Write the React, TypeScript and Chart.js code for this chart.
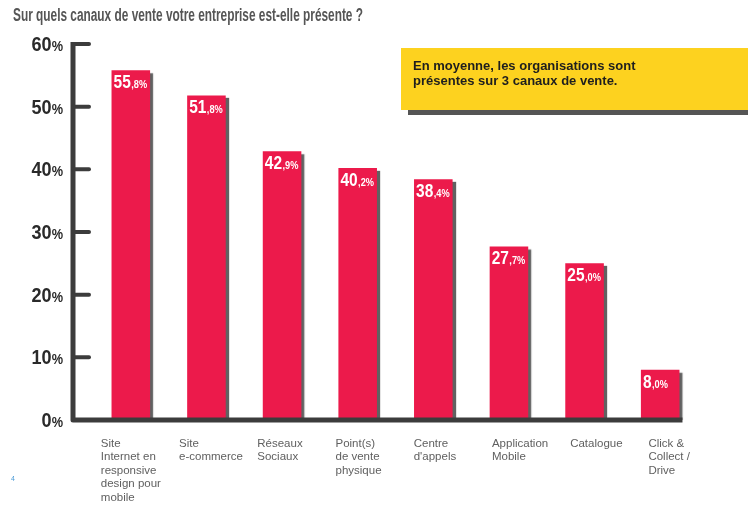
import React, { useEffect, useRef } from "react";
import { Chart, registerables } from "chart.js";

Chart.register(...registerables);

const title = "Sur quels canaux de vente votre entreprise est-elle présente ?";
const categories = [
  "Site\nInternet en\nresponsive\ndesign pour\nmobile",
  "Site\ne-commerce",
  "Réseaux\nSociaux",
  "Point(s)\nde vente\nphysique",
  "Centre\nd'appels",
  "Application\nMobile",
  "Catalogue",
  "Click &\nCollect /\nDrive",
];
const values = [55.8, 51.8, 42.9, 40.2, 38.4, 27.7, 25.0, 8.0];
const yTicks = [0, 10, 20, 30, 40, 50, 60];
const calloutLines = ["En moyenne, les organisations sont", "présentes sur 3 canaux de vente."];
const pageNumber = "4";

const SANS = '"Liberation Sans", Arial, sans-serif';
const BAR = "#EC1A4B";
const AXIS = "#3c3c3c";
const SX = 0.86;

function fmtParts(v: number) {
  const s = v.toFixed(1).split(".");
  return [s[0], "," + s[1] + "%"];
}

function drawScaled(ctx: any, text: string, x: number, y: number, font: string, sx: number, align: "left" | "right") {
  ctx.save();
  ctx.font = font;
  const w = ctx.measureText(text).width * sx;
  const left = align === "right" ? x - w : x;
  ctx.translate(left, y);
  ctx.scale(sx, 1);
  ctx.textAlign = "left";
  ctx.fillText(text, 0, 0);
  ctx.restore();
  return w;
}

const decor = {
  id: "decor",
  beforeDatasetsDraw(chart: any) {
    const ctx = chart.ctx;
    ctx.save();
    ctx.shadowColor = "rgba(80,80,80,0.9)";
    ctx.shadowOffsetX = 3;
    ctx.shadowOffsetY = 3;
    ctx.shadowBlur = 1;
  },
  afterDatasetsDraw(chart: any) {
    const ctx = chart.ctx;
    ctx.restore();
    const { chartArea } = chart;
    const xs = chart.scales.x;
    const ys = chart.scales.y;
    const meta = chart.getDatasetMeta(0);

    // axes
    const axisX = chartArea.left - 20;
    const y0 = ys.getPixelForValue(0);
    const yTop = ys.getPixelForValue(60);
    const lastBar = meta.data[meta.data.length - 1];
    const xEnd = lastBar.x + lastBar.width / 2 + 3;
    ctx.save();
    ctx.strokeStyle = AXIS;
    ctx.lineWidth = 5;
    ctx.lineJoin = "round";
    ctx.lineCap = "butt";
    ctx.beginPath();
    ctx.moveTo(axisX, yTop - 2);
    ctx.lineTo(axisX, y0);
    ctx.lineTo(xEnd, y0);
    ctx.stroke();
    ctx.lineWidth = 4;
    ctx.lineCap = "round";
    yTicks.forEach((t) => {
      if (t === 0) return;
      const y = ys.getPixelForValue(t);
      ctx.beginPath();
      ctx.moveTo(axisX, y);
      ctx.lineTo(axisX + 16, y);
      ctx.stroke();
    });
    ctx.restore();

    // y tick labels
    ctx.save();
    ctx.fillStyle = "#2a2a2a";
    ctx.textBaseline = "alphabetic";
    yTicks.forEach((t) => {
      const y = ys.getPixelForValue(t) + 7;
      const right = axisX - 10;
      const pw = drawScaled(ctx, "%", right, y, `bold 15px ${SANS}`, 0.85, "right");
      drawScaled(ctx, String(t), right - pw, y, `bold 21px ${SANS}`, 0.86, "right");
    });
    ctx.restore();

    // value labels
    ctx.save();
    ctx.fillStyle = "#ffffff";
    meta.data.forEach((bar: any, i: number) => {
      const [a, b] = fmtParts(values[i]);
      const left = bar.x - bar.width / 2 + 2;
      const base = bar.y + 18;
      const w = drawScaled(ctx, a, left, base, `bold 18px ${SANS}`, SX, "left");
      drawScaled(ctx, b, left + w + 0.5, base, `bold 11px ${SANS}`, 0.84, "left");
    });
    ctx.restore();

    // category labels
    ctx.save();
    ctx.fillStyle = "#606060";
    ctx.font = `11.5px ${SANS}`;
    ctx.textAlign = "left";
    categories.forEach((c, i) => {
      const cx = xs.getPixelForValue(i);
      const lx = cx - 30 + i * 2.6;
      c.split("\n").forEach((line, j) => {
        ctx.fillText(line, lx, y0 + 27 + j * 13.4);
      });
    });
    ctx.restore();

    // title
    ctx.save();
    ctx.fillStyle = "#555555";
    ctx.font = `bold 18px ${SANS}`;
    ctx.textAlign = "left";
    ctx.fillText(title, 13, 21, 350);
    ctx.restore();

    // callout box
    ctx.save();
    ctx.fillStyle = "#555555";
    ctx.fillRect(408, 110, 340, 5);
    ctx.fillStyle = "#FDD21F";
    ctx.fillRect(401, 48, 347, 62);
    ctx.fillStyle = "#1e1e1e";
    ctx.font = `bold 13px ${SANS}`;
    ctx.textAlign = "left";
    calloutLines.forEach((l, j) => ctx.fillText(l, 413, 70 + j * 14.5, 248));
    ctx.restore();

    // page number
    ctx.save();
    ctx.fillStyle = "#4a9ad6";
    ctx.font = `7px ${SANS}`;
    ctx.fillText(pageNumber, 11, 481);
    ctx.restore();
  },
};

export default function App() {
  const ref = useRef<HTMLCanvasElement | null>(null);
  useEffect(() => {
    if (!ref.current) return;
    const chart = new Chart(ref.current, {
      type: "bar",
      data: {
        labels: categories.map((c) => c.replace(/\n/g, " ")),
        datasets: [
          {
            data: values,
            backgroundColor: BAR,
            borderWidth: 0,
            barPercentage: 0.51,
            categoryPercentage: 1,
          },
        ],
      },
      options: {
        animation: false,
        responsive: false,
        maintainAspectRatio: false,
        layout: { padding: { left: 93, right: 50, top: 44, bottom: 91 } },
        plugins: { legend: { display: false }, tooltip: { enabled: false } },
        scales: {
          x: { display: false },
          y: { display: false, min: 0, max: 60 },
        },
      },
      plugins: [decor],
    });
    return () => chart.destroy();
  }, []);
  return (
    <div style={{ position: "fixed", left: 0, top: 0, width: 748, height: 511, background: "#fff" }}>
      <canvas ref={ref} width={748} height={511} style={{ width: 748, height: 511, display: "block" }} />
    </div>
  );
}
